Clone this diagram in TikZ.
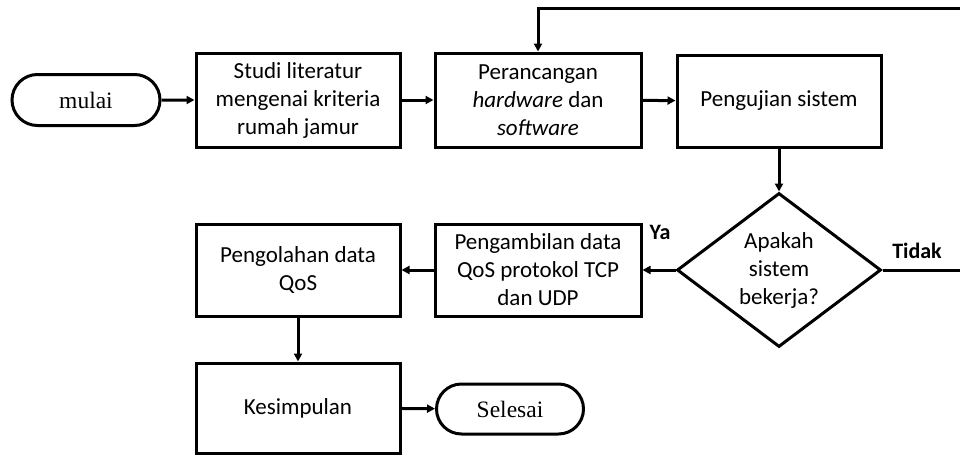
\documentclass[tikz,border=0pt]{standalone}
\usepackage{fontspec}
\setmainfont{Carlito}
\newfontfamily\tnr{Liberation Serif}
\usetikzlibrary{arrows.meta,shapes.geometric,shapes.misc}
\begin{document}
\begin{tikzpicture}[x=1pt,y=-1pt,
  box/.style={draw,rectangle,line width=3pt,align=center,inner sep=0pt,
    font=\fontsize{23}{28}\selectfont},
  term/.style={draw,rounded rectangle,line width=3pt,inner sep=0pt,
    font=\tnr\fontsize{23.5}{26}\selectfont},
  dec/.style={draw,diamond,aspect=1.32,line width=3pt,inner sep=0pt,align=center,
    font=\fontsize{23}{28}\selectfont},
  lbl/.style={font=\bfseries\fontsize{22}{24}\selectfont,inner sep=0pt},
  arr/.style={-{Triangle[length=8pt,width=8pt]},line width=3pt}]
\useasboundingbox (0,0) rectangle (960,455);
\node[term,minimum width=148pt,minimum height=51pt] (mulai) at (86,100) {mulai};
\node[box,minimum width=204pt,minimum height=94pt] (studi) at (298,100)
  {Studi literatur\\mengenai kriteria\\rumah jamur};
\node[box,minimum width=206pt,minimum height=94pt] (ranc) at (538,100)
  {Perancangan\\\textit{hardware} dan\\\textit{software}};
\node[box,minimum width=204pt,minimum height=92pt] (uji) at (779,101)
  {Pengujian sistem};
\node[dec,minimum width=204pt,minimum height=154pt] (dec) at (779,270)
  {Apakah\\sistem\\bekerja?};
\node[box,minimum width=206pt,minimum height=92pt] (ambil) at (538,270)
  {Pengambilan data\\QoS protokol TCP\\dan UDP};
\node[box,minimum width=204pt,minimum height=92pt] (olah) at (298,270)
  {Pengolahan data\\QoS};
\node[box,minimum width=204pt,minimum height=90pt] (simp) at (298,408)
  {Kesimpulan};
\node[term,minimum width=147pt,minimum height=50pt] (selesai) at (510,409) {Selesai};
\node[lbl] (ya) at (660,232) {Ya};
\node[lbl] (tidak) at (917,251) {Tidak};
\coordinate (r1) at (966,270);
\coordinate (r2) at (966,8);
\coordinate (r3) at (538,8);
\draw[arr] (mulai) -- (studi);
\draw[arr] (studi) -- (ranc);
\draw[arr] (ranc) -- (uji);
\draw[arr] (uji) -- (dec);
\draw[arr] (dec) -- (ambil);
\draw[arr] (ambil) -- (olah);
\draw[arr] (olah.south -| simp.north) -- (simp);
\draw[arr] (simp) -- (selesai);
\draw[arr] (dec.east) -- (r1) -- (r2) -- (r3) -- (ranc.north);
\end{tikzpicture}
\end{document}
